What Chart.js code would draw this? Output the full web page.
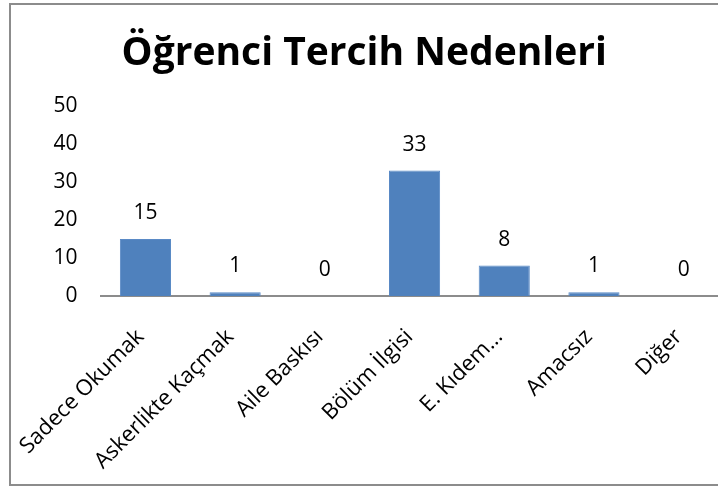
<!DOCTYPE html>
<html>
<head>
<meta charset="utf-8">
<script src="https://cdn.jsdelivr.net/npm/chart.js@4"></script>
<style>
    html, body { margin: 0; padding: 0; background: #fff; overflow: hidden; }
    #frame {
        position: absolute; left: 9px; top: 3px; width: 760px; height: 483px;
        border: 2px solid #8c8c8c; box-sizing: border-box;
    }
    #wrap { position: absolute; left: 0; top: 0; width: 740px; height: 487px; }
</style>
</head>
<body>
<div id="frame"></div>
<div id="wrap"><canvas id="chart" width="740" height="487"></canvas></div>
<script>
const titleText = 'Öğrenci Tercih Nedenleri';
const categories = ['Sadece Okumak', 'Askerlikte Kaçmak', 'Aile Baskısı', 'Bölüm İlgisi', 'E. Kıdem...', 'Amacsız', 'Diğer'];
const values = [15, 1, 0, 33, 8, 1, 0];
const yTicks = [0, 10, 20, 30, 40, 50];

const fontFamily = '"Open Sans", "Noto Sans", sans-serif';

// başlık genişliği ~486px olacak şekilde font boyutunu ayarla
const ctx = document.getElementById('chart').getContext('2d');
ctx.font = 'bold 100px ' + fontFamily;
const titleSize = Math.round(100 * 488 / ctx.measureText(titleText).width);
const titleTop = 53.5 - titleSize * 0.6;

// etiketleri çubukların üstüne yaz
const valueLabels = {
    id: 'valueLabels',
    afterDatasetsDraw(chart) {
        const c = chart.ctx;
        const meta = chart.getDatasetMeta(0);
        c.save();
        c.font = '21px ' + fontFamily;
        c.fillStyle = '#000';
        c.textAlign = 'center';
        c.textBaseline = 'middle';
        meta.data.forEach((bar, i) => {
            c.fillText(String(values[i]), bar.x, bar.y - 26);
        });
        c.restore();
    }
};

new Chart(ctx, {
    type: 'bar',
    data: {
        labels: categories,
        datasets: [{
            data: values,
            backgroundColor: '#4f81bd',
            borderColor: '#5a8ac6',
            borderWidth: 1,
            barPercentage: 0.57,
            categoryPercentage: 1
        }]
    },
    options: {
        responsive: false,
        animation: false,
        layout: { padding: { left: 0, right: 11.5, top: 0, bottom: 0 } },
        plugins: {
            legend: { display: false },
            tooltip: { enabled: false },
            title: {
                display: true,
                text: titleText,
                color: '#000',
                font: { family: fontFamily, size: titleSize, weight: 'bold', lineHeight: 1.2 },
                padding: { top: titleTop, bottom: 106 - titleTop - titleSize * 1.2 }
            }
        },
        scales: {
            x: {
                grid: { display: false, drawTicks: false },
                border: { display: true, color: '#8c8c8c', width: 2 },
                ticks: {
                    color: '#000',
                    font: { family: fontFamily, size: 22 },
                    minRotation: 45,
                    maxRotation: 45,
                    autoSkip: false,
                    padding: 28,
                    labelOffset: -5
                },
                afterFit(scale) {
                    scale.height = 191;
                    // döndürülmüş etiketler çizim alanını kaydırmasın
                    scale.paddingLeft = 0;
                    scale.paddingRight = 0;
                }
            },
            y: {
                min: 0,
                max: 50,
                afterBuildTicks(scale) { scale.ticks = yTicks.map(v => ({ value: v })); },
                grid: { display: false, drawTicks: false },
                border: { display: false },
                ticks: {
                    color: '#000',
                    font: { family: fontFamily, size: 21 },
                    padding: 23
                },
                afterFit(scale) { scale.width = 100.6; }
            }
        }
    },
    plugins: [valueLabels]
});
</script>
</body>
</html>
